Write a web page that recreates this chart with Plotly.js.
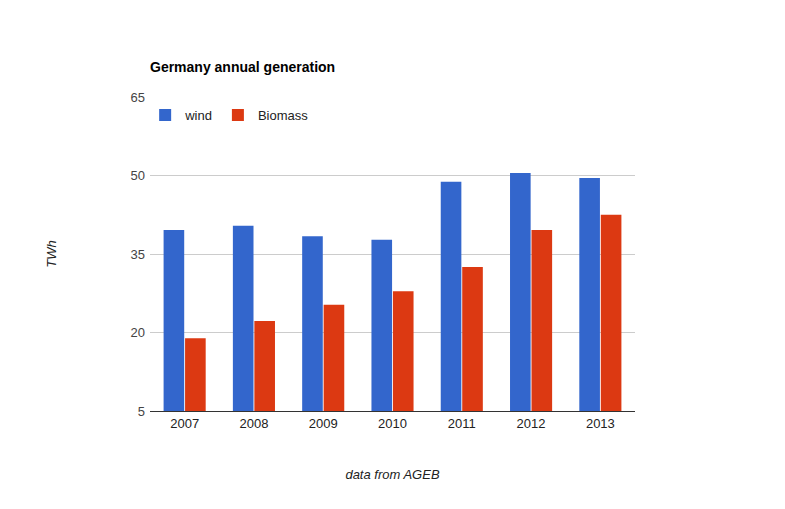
<!DOCTYPE html>
<html>
<head>
<meta charset="utf-8">
<script src="https://cdn.plot.ly/plotly-3.0.1.min.js"></script>
<style>body{margin:0;background:#fff}#chart{width:785px;height:509px}</style>
</head>
<body>
<div id="chart"></div>
<script>
const years = ["2007", "2008", "2009", "2010", "2011", "2012", "2013"];
const wind = [39.6, 40.4, 38.4, 37.7, 48.8, 50.5, 49.5];
const biomass = [18.9, 22.2, 25.3, 27.9, 32.5, 39.6, 42.5];
const yTicks = [5, 20, 35, 50, 65];
const FONT = "Arial, 'Liberation Sans', sans-serif";

var data = [
	{ type: "bar", name: "wind", x: years, y: wind, marker: { color: "#3366cc" } },
	{ type: "bar", name: "Biomass", x: years, y: biomass, marker: { color: "#dc3912" } },
];

var layout = {
	width: 785,
	height: 509,
	font: { family: FONT, size: 13, color: "#222" },
	barmode: "group",
	bargap: 0.38,
	bargroupgap: 0.04,
	margin: { l: 150, r: 150, t: 97, b: 98 },
	title: {
		text: "<b>Germany annual generation</b>",
		x: 150 / 785, xanchor: "left",
		y: 1 - 67 / 509, yanchor: "middle",
		font: { size: 14, color: "#000" },
	},
	legend: {
		orientation: "h", x: -0.01, y: 0.99, xanchor: "left", yanchor: "top",
		font: { size: 13, color: "#222" }, bgcolor: "rgba(0,0,0,0)",
	},
	xaxis: {
		showline: true, linecolor: "#333", linewidth: 1, ticks: "",
		tickfont: { size: 13, color: "#222" },
		title: { text: "<i>data from AGEB</i>", standoff: 40, font: { size: 13, color: "#222" } },
	},
	yaxis: {
		range: [5, 65], tickvals: yTicks, zeroline: false,
		gridcolor: "#cccccc", tickfont: { size: 13, color: "#444" }, ticklabelstandoff: 4,
		title: { text: "<i>TWh</i>", standoff: 70, font: { size: 13, color: "#222" } },
	},
	plot_bgcolor: "#fff",
	paper_bgcolor: "#fff",
};

Plotly.newPlot("chart", data, layout, { displayModeBar: false });
</script>
</body>
</html>
